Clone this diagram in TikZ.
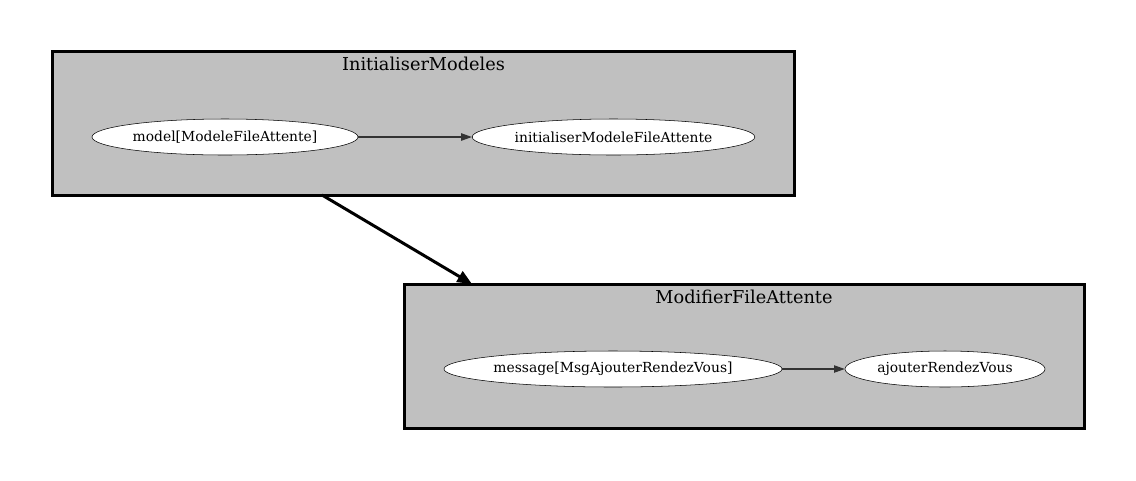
\documentclass[tikz,border=0pt]{standalone}
\usepackage{fontspec}
\setmainfont{DejaVu Serif}
\usetikzlibrary{shapes.geometric,arrows.meta}
\definecolor{clustergray}{RGB}{192,192,192}
\begin{document}
\begin{tikzpicture}[x=0.75pt, y=-0.75pt,
        cluster/.style = {rectangle, draw = black, line width = 2.25pt, fill = clustergray, inner sep = 0pt},
        title/.style = {font = \fontsize{13.3}{15}\selectfont, anchor = center, inner sep = 0pt},
        state/.style = {ellipse, draw = black, fill = white, inner sep = 0pt, minimum height = 27pt, font = \fontsize{10.4}{12}\selectfont},
        flow/.style = {draw = black!80, line width = 0.8pt, -{Triangle[length = 8pt, width = 5.5pt]}},
        link/.style = {draw = black, line width = 2.25pt, -{Triangle[length = 11pt, width = 9pt]}}]
    \useasboundingbox (0,0) rectangle (1136,480);
    % clusters
    \node [cluster, minimum width = 557pt, minimum height = 108pt] (Init) at (423.5,123) {};
    \node [title] (InitTitle) at (423.5,64) {InitialiserModeles};
    \node [cluster, minimum width = 510pt, minimum height = 108pt] (Modif) at (744,356) {};
    \node [title] (ModifTitle) at (744,297) {ModifierFileAttente};
    % states
    \node [state, minimum width = 199.5pt] (model) at (225,137) {model[ModeleFileAttente]};
    \node [state, minimum width = 212pt] (initModele) at (613.5,137) {initialiserModeleFileAttente};
    \node [state, minimum width = 253.5pt] (message) at (613,369) {message[MsgAjouterRendezVous]};
    \node [state, minimum width = 150pt] (ajouter) at (945,369) {ajouterRendezVous};
    \draw [flow] (model) -- (initModele);
    \draw [flow] (message) -- (ajouter);
    % cluster to cluster
    \coordinate (from) at (322,195);
    \coordinate (to) at (472,284);
    \draw [link] (from) -- (to);
\end{tikzpicture}
\end{document}
